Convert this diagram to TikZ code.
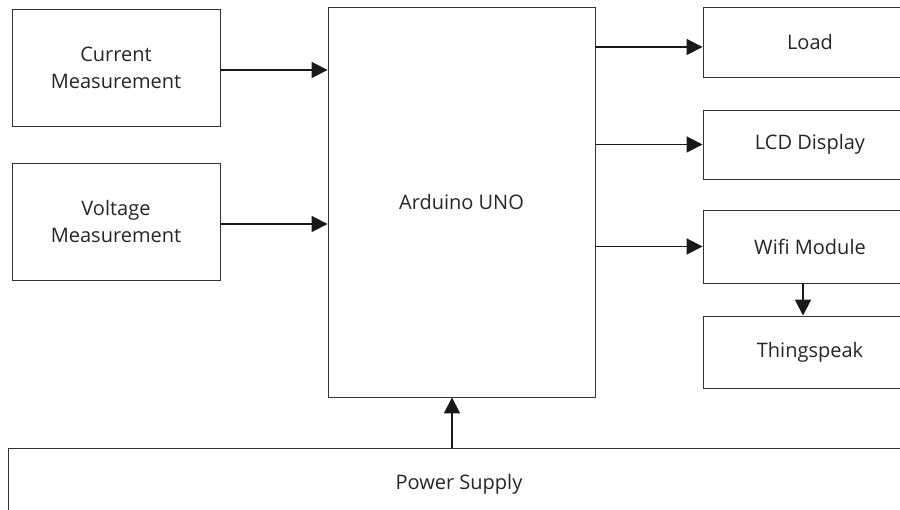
\documentclass[tikz,border=0pt]{standalone}
\usepackage{fontspec}
\setmainfont{Open Sans}
\usetikzlibrary{arrows.meta}
\tikzstyle{block} = [draw=black!80, line width=0.9pt, inner sep=0pt, text centered, align=center, font=\fontsize{20}{27}\selectfont, text=black!85]
\tikzstyle{sensor} = [block, minimum width=208pt, minimum height=117pt]
\tikzstyle{output} = [block, minimum width=214pt]
\tikzstyle{arrow} = [-{Triangle[length=16pt, width=16pt]}, line width=1.8pt, black!90]

\begin{document}
\begin{tikzpicture}[x=1pt, y=-1pt]
				\useasboundingbox (0,0) rectangle (900,510);
				\node (cur)[sensor] at (116,67.5){Current\\Measurement};
				\node (volt)[sensor] at (116,221.5){Voltage\\Measurement};
				\node (ard)[block, minimum width=267pt, minimum height=390pt] at (461.5,202){Arduino UNO};
				\node (load)[output, minimum height=70pt] at (810,42){Load};
				\node (lcd)[output, minimum height=69pt] at (810,144.5){LCD Display};
				\node (wifi)[output, minimum height=73pt] at (810,246.5){Wifi Module};
				\node (thing)[output, minimum height=72pt] at (810,352){Thingspeak};
				\node (power)[block, minimum width=902pt, minimum height=72pt] at (459,484){Power Supply};
				
				\draw [arrow] ([yshift=-2.5pt]cur.east) -- ([yshift=-2.5pt]cur.east -| ard.west);
				\draw [arrow] ([yshift=-2.5pt]volt.east) -- ([yshift=-2.5pt]volt.east -| ard.west);
				\draw [arrow] ([yshift=-5pt]load.west -| ard.east) -- ([yshift=-5pt]load.west);
				\draw [arrow] (lcd.west -| ard.east) -- (lcd.west);
				\draw [arrow] (wifi.west -| ard.east) -- (wifi.west);
				\draw [arrow] ([xshift=-7pt]wifi.south) -- ([xshift=-7pt]thing.north);
				\draw [arrow] ([xshift=-9.5pt]ard.south |- power.north) -- ([xshift=-9.5pt]ard.south);
			\end{tikzpicture}
\end{document}
